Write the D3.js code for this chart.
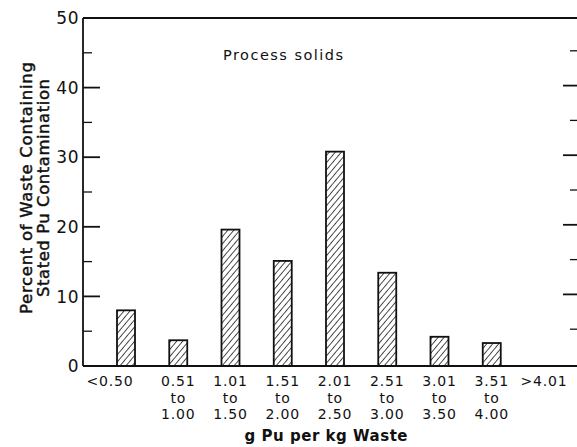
<!DOCTYPE html>
<html>
<head>
<meta charset="utf-8">
<style>
  body { margin: 0; background: #fff; }
  text { font-family: "DejaVu Sans", Verdana, sans-serif; fill: #111; }
</style>
</head>
<body>
<div id="chart-holder"></div>
<script src="https://d3js.org/d3.v7.min.js"></script>
<script>
// data
var categories = ['<0.50', '0.51-1.00', '1.01-1.50', '1.51-2.00', '2.01-2.50', '2.51-3.00', '3.01-3.50', '3.51-4.00', '>4.01'];
var percents = [8, 3.7, 19.6, 15.1, 30.8, 13.4, 4.2, 3.3, 0];
var tickLabels = [['<0.50'], ['0.51', 'to', '1.00'], ['1.01', 'to', '1.50'], ['1.51', 'to', '2.00'],
                  ['2.01', 'to', '2.50'], ['2.51', 'to', '3.00'], ['3.01', 'to', '3.50'], ['3.51', 'to', '4.00'], ['>4.01']];
var yTicks = [0, 10, 20, 30, 40, 50];

var width = 577, height = 447;
var plot = {left: 83, right: 578, top: 18, bottom: 366};

var svg = d3.select('#chart-holder').append('svg')
    .attr('width', width).attr('height', height);

// hatch pattern
var defs = svg.append('defs');
defs.append('pattern')
    .attr('id', 'hatch')
    .attr('patternUnits', 'userSpaceOnUse')
    .attr('width', 4.6).attr('height', 4.6)
    .attr('patternTransform', 'rotate(40)')
  .append('line')
    .attr('x1', 0).attr('y1', -1).attr('x2', 0).attr('y2', 6)
    .attr('stroke', '#111').attr('stroke-width', 1.5);

var x = d3.scalePoint().domain(categories).range([126, 544]);
var y = d3.scaleLinear().domain([0, 50]).range([plot.bottom, plot.top]);
var barW = 18;

// frame lines
svg.append('line')
    .attr('x1', plot.left).attr('x2', plot.right)
    .attr('y1', plot.top).attr('y2', plot.top)
    .attr('stroke', '#111').attr('stroke-width', 1.8);
svg.append('line')
    .attr('x1', plot.left).attr('x2', plot.right)
    .attr('y1', plot.bottom).attr('y2', plot.bottom)
    .attr('stroke', '#111').attr('stroke-width', 1.8);
svg.append('line')
    .attr('x1', plot.left).attr('x2', plot.left)
    .attr('y1', plot.top).attr('y2', plot.bottom)
    .attr('stroke', '#111').attr('stroke-width', 1.8);

// inner ticks, left and right
var minor = d3.range(5, 50, 10);
var majorInner = [10, 20, 30, 40];
svg.selectAll('.lmaj').data(majorInner).enter().append('line')
    .attr('x1', plot.left).attr('x2', plot.left + 17)
    .attr('y1', d => y(d)).attr('y2', d => y(d))
    .attr('stroke', '#111').attr('stroke-width', 1.8);
svg.selectAll('.lmin').data(minor).enter().append('line')
    .attr('x1', plot.left).attr('x2', plot.left + 9)
    .attr('y1', d => y(d)).attr('y2', d => y(d))
    .attr('stroke', '#111').attr('stroke-width', 1.3);
svg.selectAll('.rmaj').data(majorInner).enter().append('line')
    .attr('x1', plot.right - 15).attr('x2', plot.right)
    .attr('y1', d => y(d) - 2).attr('y2', d => y(d) - 2)
    .attr('stroke', '#111').attr('stroke-width', 1.8);
svg.selectAll('.rmin').data(minor).enter().append('line')
    .attr('x1', plot.right - 8).attr('x2', plot.right)
    .attr('y1', d => y(d) - 2).attr('y2', d => y(d) - 2)
    .attr('stroke', '#111').attr('stroke-width', 1.3);

// y tick labels
svg.selectAll('.ylab').data(yTicks).enter().append('text')
    .attr('x', plot.left - 4)
    .attr('y', d => y(d))
    .attr('dy', '0.36em')
    .attr('text-anchor', 'end')
    .attr('font-size', 17)
    .attr('letter-spacing', 0.5)
    .text(d => d);

// bars
svg.selectAll('.bar').data(percents).enter().append('rect')
    .attr('x', (d, i) => x(categories[i]) - barW / 2)
    .attr('y', d => y(d))
    .attr('width', barW)
    .attr('height', d => y(0) - y(d))
    .attr('fill', d => d > 0 ? 'url(#hatch)' : 'none')
    .attr('stroke', d => d > 0 ? '#111' : 'none')
    .attr('stroke-width', 1.8);

// x tick labels
var xl = svg.selectAll('.xlab').data(tickLabels).enter().append('text')
    .attr('text-anchor', 'middle')
    .attr('font-size', 14)
    .attr('letter-spacing', 0.8)
    .attr('transform', (d, i) => 'translate(' + (x(categories[i]) + (i === 0 ? -16 : 0)) + ',386)');
xl.selectAll('tspan').data(d => d).enter().append('tspan')
    .attr('x', 0)
    .attr('y', (d, i) => i * 16.5)
    .text(d => d);

// axis titles
svg.append('text')
    .attr('x', 326).attr('y', 441)
    .attr('text-anchor', 'middle')
    .attr('font-size', 15)
    .attr('font-weight', 'bold')
    .attr('textLength', 163)
    .attr('lengthAdjust', 'spacing')
    .text('g Pu per kg Waste');

var yt = svg.append('text')
    .attr('transform', 'translate(32,188) rotate(-90)')
    .attr('text-anchor', 'middle')
    .attr('font-size', 16.5)
    .attr('stroke', '#111')
    .attr('stroke-width', 0.45);
yt.append('tspan').attr('x', 0).attr('y', 0)
    .attr('textLength', 252).attr('lengthAdjust', 'spacing')
    .text('Percent of Waste Containing');
yt.append('tspan').attr('x', 0).attr('y', 17)
    .attr('textLength', 218).attr('lengthAdjust', 'spacing')
    .text('Stated Pu Contamination');

svg.append('text')
    .attr('x', 283).attr('y', 60)
    .attr('text-anchor', 'middle')
    .attr('font-size', 14.5)
    .attr('textLength', 120)
    .attr('lengthAdjust', 'spacing')
    .text('Process solids');
</script>
</body>
</html>
